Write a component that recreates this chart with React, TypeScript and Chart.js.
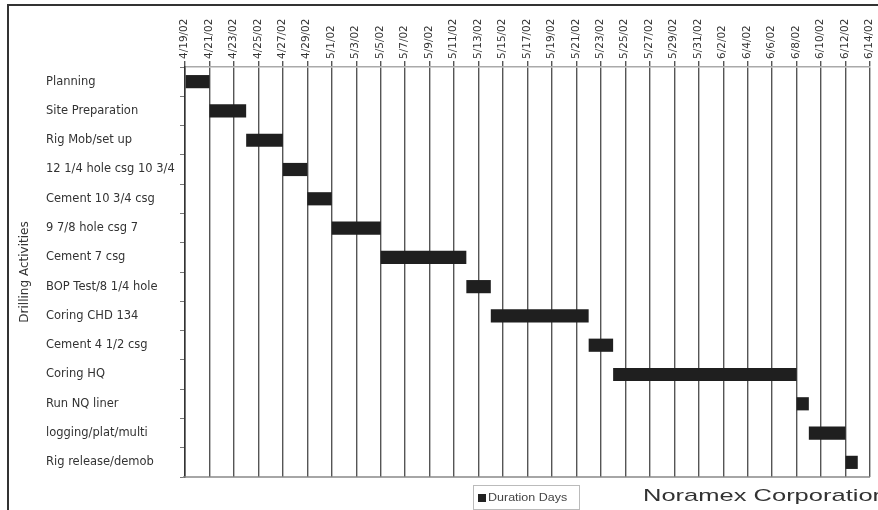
import React, { useEffect, useRef } from "react";
import { Chart, registerables } from "chart.js";

Chart.register(...registerables);

const activities = [
  "Planning",
  "Site Preparation",
  "Rig Mob/set up",
  "12 1/4 hole csg 10 3/4",
  "Cement 10 3/4 csg",
  "9 7/8 hole csg 7",
  "Cement 7 csg",
  "BOP Test/8 1/4 hole",
  "Coring CHD 134",
  "Cement 4 1/2 csg",
  "Coring HQ",
  "Run NQ liner",
  "logging/plat/multi",
  "Rig release/demob",
];
const startDates = [
  "2002-04-19",
  "2002-04-21",
  "2002-04-24",
  "2002-04-27",
  "2002-04-29",
  "2002-05-01",
  "2002-05-05",
  "2002-05-12",
  "2002-05-14",
  "2002-05-22",
  "2002-05-24",
  "2002-06-08",
  "2002-06-09",
  "2002-06-12",
];
const durationDays = [2, 3, 3, 2, 2, 4, 7, 2, 8, 2, 15, 1, 3, 1];
const seriesLabel = "Duration Days";
const axisStart = "2002-04-19";
const axisEnd = "2002-06-14";
const axisStepDays = 2;
const axisTitle = "Drilling Activities";
const companyName = "Noramex Corporation";

const DAY = 86400000;
const toMs = (s: string) => {
  const [y, m, d] = s.split("-").map(Number);
  return Date.UTC(y, m - 1, d);
};
const dayOffset = (s: string) => Math.round((toMs(s) - toMs(axisStart)) / DAY);
const fmtTick = (v: number) => {
  const d = new Date(toMs(axisStart) + v * DAY);
  return `${d.getUTCMonth() + 1}/${d.getUTCDate()}/${String(d.getUTCFullYear()).slice(2)}`;
};

const decorPlugin = {
  id: "decor",
  beforeDraw(chart: any) {
    const ctx = chart.ctx;
    ctx.save();
    ctx.fillStyle = "#ffffff";
    ctx.fillRect(0, 0, chart.width, chart.height);
    ctx.restore();
  },
  afterDraw(chart: any) {
    const ctx = chart.ctx;
    const ca = chart.chartArea;
    ctx.save();
    // outer frame (left and top)
    ctx.strokeStyle = "#333";
    ctx.lineWidth = 2;
    ctx.beginPath();
    ctx.moveTo(8, chart.height);
    ctx.lineTo(8, 5);
    ctx.lineTo(chart.width, 5);
    ctx.stroke();
    // bottom line of plot
    ctx.strokeStyle = "#888";
    ctx.lineWidth = 1.5;
    ctx.beginPath();
    ctx.moveTo(ca.left - 2, ca.bottom);
    ctx.lineTo(ca.right, ca.bottom);
    ctx.stroke();
    // y-axis title
    ctx.save();
    ctx.translate(25, (ca.top + ca.bottom) / 2);
    ctx.rotate(-Math.PI / 2);
    ctx.fillStyle = "#333";
    ctx.font = "12px 'DejaVu Sans'";
    ctx.textAlign = "center";
    ctx.textBaseline = "middle";
    ctx.fillText(axisTitle, 0, 0);
    ctx.restore();
    // legend box
    const lx = 473, ly = 485, lw = 106, lh = 24;
    ctx.strokeStyle = "#bbb";
    ctx.lineWidth = 1;
    ctx.strokeRect(lx + 0.5, ly + 0.5, lw, lh);
    ctx.fillStyle = "#222";
    ctx.fillRect(lx + 5, ly + 9, 8, 8);
    ctx.save();
    ctx.translate(lx + 15, ly + 13);
    ctx.scale(1.25, 1);
    ctx.fillStyle = "#444";
    ctx.font = "10px 'Liberation Sans'";
    ctx.textBaseline = "middle";
    ctx.fillText(chart.data.datasets[0].label, 0, 0);
    ctx.restore();
    // company name
    ctx.save();
    ctx.translate(643, 501);
    ctx.scale(1.5, 1);
    ctx.fillStyle = "#333";
    ctx.font = "17px 'Liberation Sans'";
    ctx.textBaseline = "alphabetic";
    ctx.fillText(companyName, 0, 0);
    ctx.restore();
    ctx.restore();
  },
};

export default function App() {
  const ref = useRef<HTMLCanvasElement | null>(null);
  useEffect(() => {
    document.body.style.margin = "0";
    if (!ref.current) return;
    const bars = startDates.map((s, i) => [dayOffset(s), dayOffset(s) + durationDays[i]]);
    const chart = new Chart(ref.current, {
      type: "bar",
      data: {
        labels: activities,
        datasets: [
          {
            label: seriesLabel,
            data: bars as any,
            backgroundColor: "#1f1f1f",
            borderWidth: 0,
            barPercentage: 0.45,
            categoryPercentage: 1,
          },
        ],
      },
      options: {
        indexAxis: "y",
        animation: false,
        responsive: false,
        devicePixelRatio: 1,
        layout: { padding: { left: 46, right: 8, top: 0, bottom: 33 } },
        plugins: { legend: { display: false }, tooltip: { enabled: false } },
        scales: {
          x: {
            type: "linear",
            position: "top",
            min: 0,
            max: dayOffset(axisEnd),
            afterFit: (s: any) => {
              s.height = 67;
            },
            ticks: {
              stepSize: axisStepDays,
              autoSkip: false,
              minRotation: 90,
              maxRotation: 90,
              padding: 2,
              labelOffset: 12,
              color: "#333",
              font: { family: "'DejaVu Sans'", size: 10.5 },
              callback: (v: any) => fmtTick(Number(v)),
            },
            grid: {
              color: "#555",
              lineWidth: 1.4,
              tickLength: 6,
              drawOnChartArea: true,
            },
            border: { display: true, color: "#aaa", width: 1.5 },
          },
          y: {
            type: "category",
            position: "left",
            afterFit: (s: any) => {
              s.width = 139;
            },
            ticks: {
              crossAlign: "far",
              color: "#333",
              font: { family: "'DejaVu Sans'", size: 11.5 },
            },
            grid: {
              offset: true,
              drawOnChartArea: false,
              color: "#777",
              tickLength: 5,
            },
            border: { display: true, color: "#333", width: 1.5 },
          },
        },
      },
      plugins: [decorPlugin],
    });
    return () => chart.destroy();
  }, []);
  return (
    <div style={{ position: "absolute", left: 0, top: 0, width: 878, height: 510 }}>
      <canvas ref={ref} width={878} height={510} style={{ display: "block" }} />
    </div>
  );
}
